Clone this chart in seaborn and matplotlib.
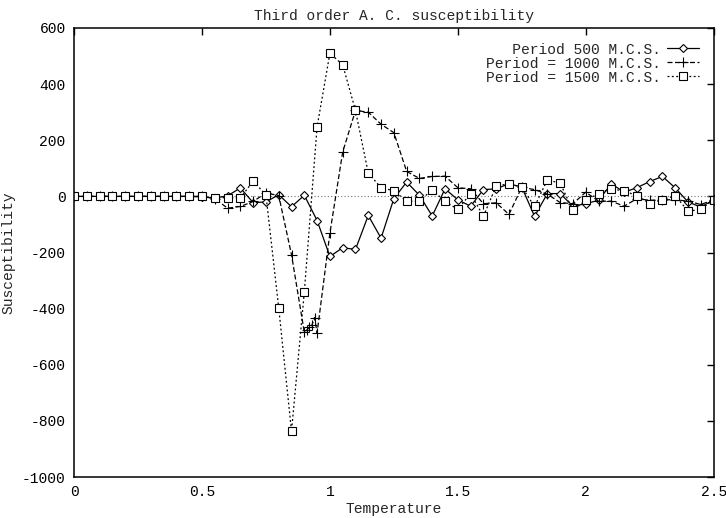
import matplotlib
matplotlib.use("Agg")
import matplotlib.pyplot as plt
import seaborn as sns

# temperatures (step 0.05), shared by the 500 and 1500 runs
temps = [0.0, 0.05, 0.1, 0.15, 0.2, 0.25, 0.3, 0.35, 0.4, 0.45,
         0.5, 0.55, 0.6, 0.65, 0.7, 0.75, 0.8, 0.85, 0.9, 0.95,
         1.0, 1.05, 1.1, 1.15, 1.2, 1.25, 1.3, 1.35, 1.4, 1.45,
         1.5, 1.55, 1.6, 1.65, 1.7, 1.75, 1.8, 1.85, 1.9, 1.95,
         2.0, 2.05, 2.1, 2.15, 2.2, 2.25, 2.3, 2.35, 2.4, 2.45, 2.5]

chi_500 = [0, 0, 0, 0, 0, 0, 0, 0, 0, 0,
           -2, -6, 2, 30, -22, -20, 6, -37, 4, -86,
           -214, -183, -189, -68, -149, -8, 51, 4, -70, 27,
           -12, -35, 24, 27, 45, 33, -71, 10, 10, -35,
           -26, -14, 45, 15, 31, 53, 71, 30, -20, -38, -12]

# the 1000 run has extra points around the transition
temps_1000 = [0.0, 0.05, 0.1, 0.15, 0.2, 0.25, 0.3, 0.35, 0.4, 0.45,
              0.5, 0.55, 0.6, 0.65, 0.7, 0.75, 0.8, 0.85, 0.9, 0.91,
              0.92, 0.93, 0.94, 0.95,
              1.0, 1.05, 1.1, 1.15, 1.2, 1.25, 1.3, 1.35, 1.4, 1.45,
              1.5, 1.55, 1.6, 1.65, 1.7, 1.75, 1.8, 1.85, 1.9, 1.95,
              2.0, 2.05, 2.1, 2.15, 2.2, 2.25, 2.3, 2.35, 2.4, 2.45, 2.5]

chi_1000 = [0, 0, 0, 0, 0, 0, 0, 0, 0, 0,
            0, -8, -42, -36, -18, 12, 3, -208, -484, -476,
            -466, -458, -432, -486,
            -131, 158, 306, 300, 257, 227, 89, 64, 71, 72,
            31, 27, -26, -23, -64, 33, 24, 8, -22, -26,
            15, -17, -17, -35, -8, -14, -12, -12, -17, -29, -12]

chi_1500 = [0, 0, 0, 0, 0, 0, 0, 0, 0, 0,
            0, -6, -4, -6, 55, 5, -397, -837, -341, 248,
            510, 469, 306, 83, 31, 20, -17, -17, 24, -18,
            -46, 10, -71, 37, 45, 33, -36, 59, 47, -50,
            -14, 10, 27, 19, 3, -26, -12, 3, -53, -46, -12]

# labels padded so they line up on the right like gnuplot's key
labels = ["   Period 500 M.C.S.", "Period = 1000 M.C.S.", "Period = 1500 M.C.S."]

xticks = [0, 0.5, 1, 1.5, 2, 2.5]
xtick_labels = ["0", "0.5", "1", "1.5", "2", "2.5"]
yticks = [-1000, -800, -600, -400, -200, 0, 200, 400, 600]

sns.set_style("white")
plt.rcParams['font.family'] = ['Liberation Mono', 'DejaVu Sans Mono']
plt.rcParams['font.size'] = 10.5
plt.rcParams['axes.unicode_minus'] = False

fig = plt.figure(figsize=(7.26, 5.18), dpi=100)
ax = fig.add_axes([0.102, 0.079, 0.881, 0.867])

# zero axis
ax.axhline(0, color='0.45', linestyle=(0, (1, 2)), linewidth=0.8, zorder=1)

sns.lineplot(x=temps, y=chi_500, ax=ax, sort=False, color='black',
             linestyle='-', linewidth=0.9, marker='D', markersize=4.5,
             markerfacecolor='white', markeredgecolor='black',
             markeredgewidth=0.8, label=labels[0])
sns.lineplot(x=temps_1000, y=chi_1000, ax=ax, sort=False, color='black',
             linestyle=(0, (4, 2)), linewidth=0.9, marker='+', markersize=7,
             markeredgecolor='black', markeredgewidth=0.8, label=labels[1])
sns.lineplot(x=temps, y=chi_1500, ax=ax, sort=False, color='black',
             linestyle=(0, (1.5, 2)), linewidth=0.9, marker='s', markersize=6,
             markerfacecolor='white', markeredgecolor='black',
             markeredgewidth=0.8, label=labels[2])

ax.set_xlim(0, 2.5)
ax.set_ylim(-1000, 600)
ax.set_xticks(xticks)
ax.set_xticklabels(xtick_labels)
ax.set_yticks(yticks)
ax.tick_params(direction='in', length=5, width=1, top=True, right=True,
               color='black', labelcolor='black', pad=6)
for s in ax.spines.values():
    s.set_color('black')
    s.set_linewidth(1.1)

ax.set_title("Third order A. C. susceptibility", fontsize=10.5, pad=6)
ax.set_xlabel("Temperature", labelpad=2)
ax.set_ylabel("Susceptibility")
ax.yaxis.set_label_coords(-0.092, 0.5)

leg = ax.legend(loc='upper right', frameon=False, markerfirst=False,
                handlelength=2.2, handletextpad=0.4, labelspacing=0.0,
                borderaxespad=0.6)

fig.savefig("out.png", dpi=100)
